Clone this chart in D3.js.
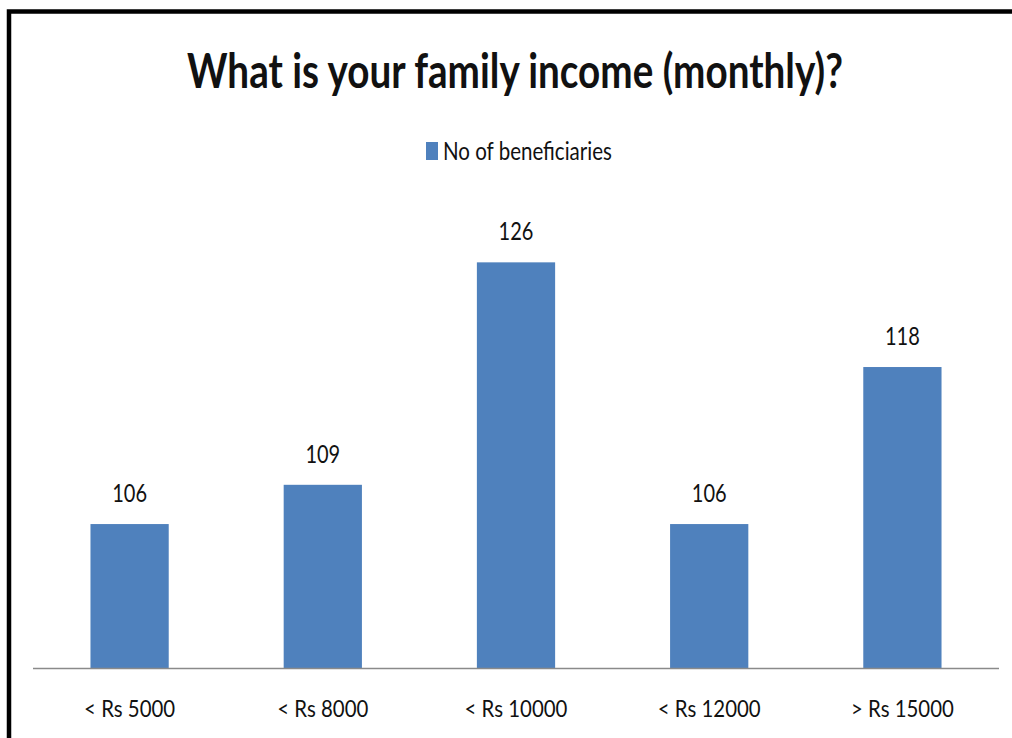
<!DOCTYPE html>
<html>
<head>
<meta charset="utf-8">
<script src="https://cdn.jsdelivr.net/npm/d3@7"></script>
<style>
  html, body { margin: 0; padding: 0; background: #fff; }
  svg { display: block; }
  text { font-family: Lato, "Open Sans", sans-serif; fill: #111; }
</style>
</head>
<body>
<svg id="chart" width="1012" height="738"></svg>
<script>
// Monthly family income survey
const categories = ["< Rs 5000", "< Rs 8000", "< Rs 10000", "< Rs 12000", "> Rs 15000"];
const beneficiaries = [106, 109, 126, 106, 118];
const seriesName = "No of beneficiaries";
const chartTitle = "What is your family income (monthly)?";
const yDomain = [95, 130];

const W = 1012, H = 738;
const svg = d3.select("#chart");

// Chart area frame
svg.append("rect")
  .attr("x", 9).attr("y", 11.5)
  .attr("width", W + 20).attr("height", H + 20)
  .attr("fill", "#fff").attr("stroke", "#000").attr("stroke-width", 4.5);

const plot = { left: 33, right: 999, top: 210, bottom: 668 };

const x = d3.scaleBand()
  .domain(categories)
  .range([plot.left, plot.right])
  .paddingInner(0).paddingOuter(0);

const y = d3.scaleLinear().domain(yDomain).range([plot.bottom, plot.top]);

const barW = x.bandwidth() * 0.405;

// Condense glyphs horizontally, like a narrow UI font
function condense(sel, factor) {
  sel.each(function () {
    const len = this.getComputedTextLength();
    d3.select(this).attr("textLength", len * factor).attr("lengthAdjust", "spacingAndGlyphs");
  });
}

// Title
svg.append("text")
  .attr("x", 515).attr("y", 88)
  .attr("text-anchor", "middle")
  .attr("font-size", 48).attr("font-weight", 700)
  .text(chartTitle)
  .call(condense, 0.805);

// Legend
const legend = svg.append("g");
legend.append("rect")
  .attr("x", 426).attr("y", 142)
  .attr("width", 12).attr("height", 18)
  .attr("fill", "#4f81bd");
legend.append("text")
  .attr("x", 443).attr("y", 160)
  .attr("font-size", 25)
  .attr("fill", "#222")
  .text(seriesName)
  .call(condense, 0.82);

// Bars
svg.append("g").selectAll("rect")
  .data(beneficiaries)
  .join("rect")
  .attr("x", (d, i) => x(categories[i]) + (x.bandwidth() - barW) / 2)
  .attr("y", d => y(d))
  .attr("width", barW)
  .attr("height", d => y(yDomain[0]) - y(d))
  .attr("fill", "#4f81bd");

// Value labels
svg.append("g").selectAll("text")
  .data(beneficiaries)
  .join("text")
  .attr("x", (d, i) => x(categories[i]) + x.bandwidth() / 2)
  .attr("y", d => y(d) - 22)
  .attr("text-anchor", "middle")
  .attr("font-size", 25)
  .text(d => d)
  .call(condense, 0.8);

// Category axis
const xAxis = svg.append("g")
  .attr("transform", `translate(0,${plot.bottom})`)
  .call(d3.axisBottom(x).tickSize(0).tickPadding(0));
xAxis.select(".domain").attr("stroke", "#8a8a8a").attr("stroke-width", 1.3)
  .attr("d", `M${plot.left},0.5H${plot.right}`);
xAxis.selectAll(".tick text")
  .attr("y", 49)
  .attr("dy", null)
  .attr("font-size", 24)
  .attr("font-family", "Lato, sans-serif")
  .attr("fill", "#222")
  .call(condense, 0.85);
</script>
</body>
</html>
